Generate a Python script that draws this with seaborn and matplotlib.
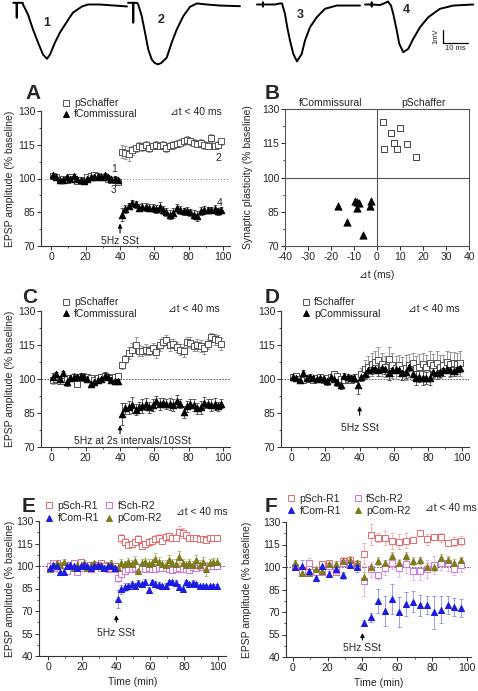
import numpy as np
import matplotlib
matplotlib.use("Agg")
import matplotlib.pyplot as plt
from matplotlib.lines import Line2D
import seaborn as sns

nan = np.nan

# ---------------- data ----------------
TIME_2MIN = [1, 3, 5, 7, 9, 11, 13, 15, 17, 19, 21, 23, 25, 27, 29, 31, 33, 35, 37, 39,
             41, 43, 45, 47, 49, 51, 53, 55, 57, 59, 61, 63, 65, 67, 69, 71, 73, 75, 77, 79,
             81, 83, 85, 87, 89, 91, 93, 95, 97, 99]
TIME_4MIN = [1, 5, 9, 13, 17, 21, 25, 29, 33, 37, 41, 45, 49, 53, 57, 61, 65, 69, 73, 77,
             81, 85, 89, 93, 97]

# EPSP traces (ms, mV) relative to each stimulus
TRACE1_T = [-1.4, 0, 0, 0, 2.4, 2.5, 4.5, 6.5, 8.5, 10.5, 12.1, 13.3, 15.3, 17.3, 20.1, 22.5, 26.1, 28.5, 33.3, 44.1]
TRACE1_V = [0.13, 0.13, -1.0, 0.13, 0.13, 0, -0.77, -1.92, -2.92, -3.85, -4.18, -3.85, -2.92, -2.15, -1.31, -0.62, -0.15, 0, 0, -0.15]
TRACE2_T = [-2.1, 0, 0, 0, 1.5, 2.0, 3.4, 4.7, 6.0, 7.4, 8.6, 9.9, 11.2, 13.4, 15.4, 17.4, 20.0, 22.7, 25.4, 29.4, 34.7, 42.7]
TRACE2_V = [0.13, 0.13, -1.38, 0.13, 0.13, 0, -0.9, -2.15, -3.46, -4.23, -4.5, -4.6, -4.5, -4.08, -2.92, -1.92, -0.9, -0.18, 0.08, 0, -0.08, -0.13]
TRACE3_T = [0, 2.4, 2.4, 2.4, 2.4, 7.2, 9.2, 10.0, 11.2, 12.1, 13.2, 14.5, 16.0, 17.9, 19.2, 21.2, 23.9, 27.2, 31.9, 41.2]
TRACE3_V = [0, 0, 0.15, -0.15, 0, 0, 0.08, 0.08, -0.72, -1.75, -2.77, -3.79, -4.38, -3.79, -2.77, -1.75, -0.98, -0.33, -0.08, -0.08]
TRACE4_T = [0, 2.7, 2.7, 2.7, 2.7, 6.0, 7.6, 9.2, 10.4, 11.3, 12.7, 13.7, 15.3, 17.3, 19.3, 22.0, 25.3, 30.0, 35.3, 43.3]
TRACE4_V = [0, 0, 0.15, -0.15, 0, -0.04, 0.08, 0.23, -0.08, -0.72, -2.0, -3.02, -3.67, -3.41, -2.64, -1.75, -0.98, -0.33, -0.08, 0]
TRACE_LABELS = ["1", "2", "3", "4"]
SCALE_MS = 10
SCALE_MV = 1

# axis ticks
TIME_TICKS = [0, 20, 40, 60, 80, 100]
TIME_MINOR = [10, 30, 50, 70, 90]
Y_TICKS_70 = [70, 85, 100, 115, 130]
Y_MINOR_70 = [77.5, 92.5, 107.5, 122.5]
Y_TICKS_40 = [40, 55, 70, 85, 100, 115, 130]
Y_MINOR_40 = [47.5, 62.5, 77.5, 92.5, 107.5, 122.5]
DT_TICKS = [-40, -30, -20, -10, 0, 10, 20, 30, 40]

# panel A
A_PSCH = [101, 100.5, 99.5, 100, 99.5, 100.5, 100, 99, 99.5, 99, 100.5, 101, 101.5, 101, 100.5, 100.5, 100, 99.5, 99.5, 98.5,
          112, 111.5, 111, 112.5, 113.5, 114.5, 114, 115, 113.5, 114.5, 115, 114.5, 115, 113.5, 114.5, 115, 115.5, 116, 116.5, 117,
          116.5, 116, 115.5, 116, 115, 114.5, 118, 114.5, 115, 116.5]
A_PSCH_ERR = [1.2, 1.0, 1.5, 1.0, 1.2, 0.8, 1.0, 1.2, 0.9, 1.0, 1.1, 1.3, 1.0, 0.9, 1.2, 1.0, 0.8, 1.0, 1.1, 1.0,
              3.0, 2.8, 3.0, 2.0, 1.5, 1.8, 1.6, 1.5, 1.8, 1.4, 1.6, 1.5, 1.8, 1.5, 1.6, 1.8, 1.5, 1.4, 1.6, 1.8,
              1.5, 1.6, 1.4, 1.5, 1.8, 1.6, 1.8, 1.5, 1.6, 1.5]
A_FCOM = [101.5, 100.5, 99.5, 99.5, 100.5, 100, 101, 100, 99.5, 99, 100, 100.5, 100.5, 101, 100.5, 101.5, 100.5, 100, 100, 99.5,
          84, 86.5, 88, 89, 88.5, 87, 87.5, 87.5, 87, 87, 86.5, 87.5, 86, 85, 84, 84.5, 87, 86, 85.5, 85.5,
          85, 84, 83.5, 85.5, 86, 86, 86, 86.5, 85.5, 86]
A_FCOM_ERR = [0.8, 1.0, 0.9, 1.0, 0.8, 1.0, 0.9, 0.8, 1.0, 0.9, 0.8, 1.0, 0.9, 1.0, 0.8, 1.0, 0.9, 0.8, 1.0, 0.9,
              3.0, 1.8, 1.2, 1.4, 1.5, 1.6, 1.4, 1.8, 1.5, 1.6, 1.8, 2.0, 1.6, 1.8, 2.0, 2.2, 1.8, 1.6, 1.5, 1.8,
              1.6, 2.0, 2.2, 1.8, 1.6, 1.5, 1.4, 1.6, 1.5, 1.4]
A_MARKS = ["1", "2", "3", "4"]
A_MARK_T = [36.5, 97, 36, 98]
A_MARK_Y = [104.4, 109.3, 95.1, 88.9]

# panel B
B_SCH_DT = [2.7, 6.0, 10.0, 7.4, 3.0, 8.6, 12.9, 17.0]
B_SCH_PL = [124.2, 119.4, 121.6, 115.3, 112.4, 112.7, 114.6, 108.9]
B_COM_DT = [-16.8, -13.2, -9.6, -8.6, -7.7, -8.6, -2.6, -3.0, -6.1]
B_COM_PL = [87.3, 80.4, 89.6, 89.2, 88.7, 86.7, 89.6, 87.4, 74.6]

# panel C
C_PSCH = [99.5, 100, 99, 99, 100, 100.5, 101, 98, 101, 100.5, 101, 100.5, 99.5, 100.5, 101, 101.5, 101, 100.5, 101, 101.5,
          106, 109, 111.5, 113, 115, 112.5, 112.5, 113, 112.5, 113.5, 112, 115, 116.5, 117, 115, 115.5, 114, 113, 112.5, 116.5,
          116, 114.5, 115, 114.5, 113.5, 115.5, 118.5, 117.5, 117, 115.5]
C_PSCH_ERR = [1.5, 1.2, 1.0, 1.4, 1.2, 1.0, 1.5, 1.2, 1.1, 1.5, 1.2, 1.0, 1.4, 1.2, 1.0, 1.5, 1.2, 1.0, 1.4, 1.2,
              1.5, 1.8, 2.5, 3.0, 3.5, 2.5, 2.2, 2.5, 2.0, 2.5, 2.8, 2.5, 2.0, 2.2, 2.5, 2.0, 2.2, 2.5, 2.8, 2.2,
              2.5, 2.2, 2.5, 2.8, 2.5, 2.2, 2.0, 2.5, 2.2, 2.5]
C_FCOM = [101, 102, 100, 102.5, 98.5, 100.5, 101, 101, 101.5, 101, 100, 98, 98.5, 99.5, 100, 101.5, 101, 99.5, 99, 99,
          84.5, 87, 87.5, 88.5, 86.5, 87.5, 88, 89, 87.5, 88.5, 90.5, 89, 89.5, 89, 89, 88.5, 90.5, 89, 85.5, 88,
          89, 88.5, 87, 87.5, 89.5, 89, 88.5, 89, 88, 89]
C_FCOM_ERR = [1.5, 1.2, 1.0, 1.2, 1.5, 1.0, 1.2, 1.0, 1.2, 1.5, 1.0, 1.2, 1.0, 1.2, 1.0, 1.5, 1.2, 1.0, 1.2, 1.0,
              5.0, 2.5, 3.0, 3.5, 2.5, 2.5, 3.0, 2.5, 2.5, 2.5, 2.0, 2.5, 2.0, 2.2, 2.5, 2.5, 2.5, 2.0, 2.5, 2.5,
              2.0, 2.5, 2.5, 3.0, 2.5, 2.0, 2.5, 2.5, 2.0, 2.0]

# panel D
D_FSCH = [101, 101.5, 100, 99.5, 100.5, 100, 99.5, 100.5, 101, 99.5, 100.5, 101, 102, 101.5, 100, 99.5, 100, 99.5, 100, 101,
          102, 104.5, 105.5, 106.5, 107.5, 108.5, 106.5, 105.5, 109, 106, 105, 106, 104.5, 105, 106, 107, 105, 105.5, 106.5, 105.5,
          107, 106, 107, 105.5, 106, 107.5, 106.5, 107, 106.5, 107]
D_FSCH_ERR = [1.0, 1.2, 1.0, 0.8, 1.2, 1.0, 0.8, 1.0, 1.2, 1.0, 0.8, 1.2, 1.5, 1.0, 1.2, 1.0, 0.8, 1.0, 1.2, 1.0,
              3.0, 4.0, 4.5, 5.0, 5.0, 5.5, 5.0, 4.5, 5.0, 5.5, 5.0, 4.5, 5.0, 5.5, 5.0, 4.5, 5.0, 5.5, 5.0, 5.0,
              5.5, 5.0, 5.5, 5.0, 4.5, 5.0, 5.5, 5.0, 5.0, 5.5]
D_PCOM = [101, 100.5, 99.5, 102.5, 100.5, 101, 100.5, 100, 100.5, 100, 99, 101, 100, 98.5, 97.5, 101.5, 101, 100.5, 100.5, 97.5,
          101, 102, 104, 104.5, 104.5, 104, 105, 104.5, 102.5, 104, 104.5, 104, 102.5, 103, 105.5, 102, 100.5, 101, 100.5, 100.5,
          100.5, 103, 102.5, 103, 104, 104.5, 104, 103.5, 104.5, 105]
D_PCOM_ERR = [1.0, 1.0, 1.2, 1.5, 1.0, 1.2, 1.0, 1.0, 1.2, 1.0, 1.5, 1.2, 1.0, 1.5, 2.0, 1.2, 1.0, 1.2, 1.5, 4.0,
              2.0, 2.0, 2.5, 2.5, 2.0, 2.5, 2.0, 2.5, 3.0, 2.5, 2.0, 2.5, 3.0, 2.5, 2.0, 2.5, 3.0, 2.5, 3.0, 2.5,
              3.0, 2.5, 2.5, 2.0, 2.5, 2.0, 2.5, 2.0, 2.5, 2.0]

# panel E
E_PSCH_R1 = [99, 101, 102, 100, 99, 101, 100, 102, 99, 103, 101, 100, 99, 101, 100, 102, 100, 101, 99, 100,
             nan, 118.5, 116, 114, 115, 116, 118, 113.5, 115, 116, 116.5, 118, 119, 117, 119.5, 120, 118.5, 119, 123, 122,
             120.5, 119, 118.5, 118.5, 118, 118, 117.5, 118.5, 119, 118.5]
E_PSCH_R1_ERR = [1.5, 1.2, 1.5, 1.2, 1.5, 1.2, 1.5, 1.5, 1.2, 1.5, 1.2, 1.5, 1.2, 1.5, 1.2, 1.5, 1.2, 1.5, 1.2, 1.5,
                 nan, 3.0, 2.5, 2.0, 2.0, 2.0, 2.5, 2.0, 2.0, 2.5, 2.0, 2.5, 2.5, 2.0, 2.5, 2.0, 2.0, 2.5, 4.0, 3.5,
                 2.5, 2.0, 2.0, 1.5, 1.5, 1.5, 1.5, 1.5, 1.5, 1.5]
E_FSCH_R2 = [100, 102, 99, 98, 101, 97, 101, 102, 96, 99, 100, 101, 98, 100, 101, 99, 100, 98, 99, 98,
             92, 95, 97, 98, 98, 98.5, 99.5, 98.5, 98, 99, 98, 98, 99, 98.5, 99, 98, 97.5, 98, 99, 98,
             98, 97.5, 99.5, 99, 100, 99.5, 100, 100, 100, 100]
E_FSCH_R2_ERR = [1.5, 2.0, 1.5, 2.0, 1.5, 2.0, 1.5, 1.5, 2.0, 1.5, 2.0, 1.5, 1.5, 2.0, 1.5, 1.5, 2.0, 1.5, 1.5, 2.0,
                 2.5, 2.0, 2.0, 2.0, 1.5, 2.0, 1.5, 2.0, 2.0, 1.5, 2.0, 2.0, 1.5, 2.0, 2.0, 1.5, 2.0, 2.0, 1.5, 2.0,
                 2.0, 1.5, 2.0, 2.0, 1.5, 2.0, 2.0, 1.5, 2.0, 1.5]
E_FCOM_R1 = [99, 101, 100, 96, 96, 100, 101, 100, 99, 100, 101, 100, 99, 100, 101, 100, 99, 100, 100, 99,
             78, 84.5, 86, 86.5, 88, 87, 89, 88, 89.5, 84, 89.5, 88, 87.5, 86.5, 87, 89.5, 89.5, 89, 86, 85,
             89.5, 88, 89, 88, 86.5, 86.5, 86.5, 86.5, 87, 87]
E_FCOM_R1_ERR = [1.0, 1.2, 1.0, 1.5, 1.2, 1.0, 1.2, 1.0, 1.0, 1.2, 1.0, 1.2, 1.0, 1.0, 1.2, 1.0, 1.2, 1.0, 1.0, 1.2,
                 6.0, 3.0, 2.5, 2.0, 2.0, 2.0, 2.0, 1.5, 2.0, 2.0, 1.5, 2.0, 2.0, 1.5, 2.0, 1.5, 1.5, 2.0, 2.0, 2.0,
                 1.5, 1.5, 1.5, 1.5, 1.0, 1.0, 1.0, 1.0, 1.0, 1.0]
E_PCOM_R2 = [98, 101, 102, 101, 103, 100, 101, 99, 101, 100, 102, 99, 101, 102, 100, 101, 99, 101, 102, 99,
             98.5, 102, 101.5, 103, 101.5, 103.5, 97, 102, 103, 101.5, 102, 105, 103, 101.5, 101, 104, 102, 101.5, 106, 102,
             101, 102, 101, 104, 101, 103, 98, 102, 103, 103]
E_PCOM_R2_ERR = [1.5, 1.5, 2.0, 1.5, 2.0, 1.5, 1.5, 2.0, 1.5, 1.5, 2.0, 1.5, 2.0, 1.5, 1.5, 2.0, 1.5, 1.5, 2.0, 1.5,
                 2.0, 2.5, 2.0, 2.5, 2.5, 3.0, 2.5, 3.0, 2.5, 3.0, 2.5, 3.5, 3.0, 2.5, 3.0, 3.5, 2.5, 3.0, 4.0, 3.0,
                 2.5, 3.0, 2.5, 3.5, 3.0, 3.0, 4.5, 3.0, 2.5, 2.5]

# panel F
F_PSCH_R1 = [100, 98, 101, 97, 102, 103, 97, 104, 105, 102,
             109, 121.5, 119.5, 119.5, 117.5, 117, 117.5, 118, 122.5, 118.5, 120, 120, 116, 117, 117.5]
F_PSCH_R1_ERR = [1.5, 2.0, 1.5, 2.0, 2.0, 2.0, 2.0, 2.5, 2.5, 2.0,
                 7.0, 7.0, 3.0, 4.5, 5.5, 5.0, 5.0, 1.5, 1.5, 3.5, 2.0, 3.0, 1.5, 3.0, 3.0]
F_FSCH_R2 = [100, 97, 103, 97, 96.5, 101, 98, 103, 103, 101,
             90.5, 98.5, 94.5, 99.5, 103, 99.5, 102, 97.5, 97.5, 99, 101.5, 102.5, 102.5, 98.5, 101.5]
F_FSCH_R2_ERR = [1.5, 2.0, 3.0, 2.0, 2.0, 2.5, 2.0, 2.5, 2.0, 2.0,
                 10.0, 5.0, 2.5, 5.0, 4.0, 6.0, 6.0, 6.0, 6.0, 6.0, 6.0, 4.5, 5.0, 4.0, 4.5]
F_FCOM_R1 = [100, 100.5, 97.5, 93, 101, 95.5, 98.5, 94.5, 101.5, 100,
             62.5, 66.5, 77.5, 70.5, 79, 70, 75.5, 77, 74.5, 74.5, 70, 71.5, 74.5, 73.5, 72.5]
F_FCOM_R1_ERR = [2.0, 4.0, 3.0, 2.0, 2.5, 2.0, 3.0, 2.5, 2.0, 3.0,
                 2.0, 3.0, 8.0, 10.0, 10.0, 10.0, 8.0, 7.0, 7.0, 6.0, 11.0, 9.0, 6.0, 6.0, 6.0]
F_PCOM_R2 = [103, 96, 96, 98.5, 97.5, 102, 102, 104, 104.5, 102.5,
             93.5, 100, 104, 102.5, 107.5, 102.5, 107.5, 104, 104.5, 100, 100, 106, 104.5, 103, 104.5]
F_PCOM_R2_ERR = [1.5, 1.5, 1.5, 1.5, 1.5, 2.0, 2.0, 2.0, 2.0, 2.0,
                 3.0, 2.0, 2.5, 2.5, 2.5, 2.5, 2.5, 2.5, 2.5, 2.5, 2.5, 3.0, 2.5, 2.5, 2.5]

STIM_T = 40

# ---------------- style ----------------
sns.set_theme(style="ticks")
plt.rcParams["font.family"] = ["Liberation Sans", "DejaVu Sans"]
plt.rcParams["font.size"] = 7.5
plt.rcParams["axes.linewidth"] = 0.8
plt.rcParams["axes.edgecolor"] = "#333333"
plt.rcParams["axes.unicode_minus"] = False

FS = 7.5
W, H = 478, 691
fig = plt.figure(figsize=(W / 100, H / 100), dpi=100)
fig.patch.set_facecolor("white")


def px_axes(left, top, right, bottom):
    return fig.add_axes([left / W, 1 - bottom / H, (right - left) / W, (bottom - top) / H])


SQ_GRAY = dict(marker="s", face="white", edge="#555555", ecolor="#8a8a8a", size=18)
TRI_BLACK = dict(marker="^", face="black", edge="black", ecolor="#444444", size=22)
R1_SQ = dict(marker="s", face="white", edge="#e66a6a", ecolor="#f0a8a8", size=15)
R2_SQ = dict(marker="s", face="white", edge="#d670d6", ecolor="#e8a8e8", size=15)
R1_TRI = dict(marker="^", face="#1c1ce0", edge="#1c1ce0", ecolor="#8c8ce6", size=19)
R2_TRI = dict(marker="^", face="#7c7c1c", edge="#7c7c1c", ecolor="#b8b878", size=19)


def draw_series(ax, t, y, err, st):
    ax.errorbar(t, y, yerr=err, fmt="none", ecolor=st["ecolor"], elinewidth=0.6,
                capsize=1.4, capthick=0.6, zorder=2)
    sns.scatterplot(x=t, y=y, marker=st["marker"], s=st["size"], color=st["edge"],
                    facecolor=st["face"], edgecolor=st["edge"], linewidth=0.7,
                    ax=ax, zorder=3, legend=False)


def handle(st, label):
    return Line2D([], [], linestyle="none", marker=st["marker"],
                  markersize=3.8 if st["marker"] == "s" else 4.3,
                  markerfacecolor=st["face"], markeredgecolor=st["edge"],
                  markeredgewidth=0.7, label=label)


def style_time_axes(ax, xlim, ylim, yticks, yminor):
    ax.set_xlim(*xlim)
    ax.set_ylim(*ylim)
    ax.set_xticks(TIME_TICKS)
    ax.set_xticks(TIME_MINOR, minor=True)
    ax.set_yticks(yticks)
    ax.set_yticks(yminor, minor=True)
    sns.despine(ax=ax)
    ax.tick_params(which="major", direction="out", length=2.6, width=0.7,
                   labelsize=FS, pad=1.5, color="#333333")
    ax.tick_params(which="minor", direction="out", length=1.5, width=0.6, color="#333333")
    ax.set_xlabel("")
    ax.set_ylabel("")


def stim_arrow(ax, tip, tail, text_y, text, text_x=STIM_T):
    ax.annotate("", xy=(STIM_T, tip), xytext=(STIM_T, tail),
                arrowprops=dict(arrowstyle="-|>", color="black", lw=0.8,
                                mutation_scale=6, shrinkA=0, shrinkB=0))
    ax.text(text_x, text_y, text, ha="center", va="center", fontsize=FS)


def dt_text(ax, x, y):
    ax.text(x, y, "\u22bft < 40 ms", transform=ax.transAxes, ha="right", va="center",
            fontsize=FS)


def panel_letter(x, y_base, letter):
    fig.text(x / W, 1 - y_base / H, letter, fontsize=15, fontweight="bold",
             ha="left", va="baseline")


# ---------------- traces ----------------
ax_tr = px_axes(0, 0, W, 64)
ax_tr.set_xlim(0, W / 2.5)
ax_tr.set_ylim(-(64 - 4.5) / 13, 4.5 / 13)
ax_tr.axis("off")
onsets = [6.7, 53.3, 102.8, 146.0]
label_pos = [(12, -1.45), (11.1, -1.19), (17.2, -0.81), (16.7, -0.42)]
traces = [(TRACE1_T, TRACE1_V), (TRACE2_T, TRACE2_V), (TRACE3_T, TRACE3_V), (TRACE4_T, TRACE4_V)]
for (tt, vv), on, lab, (lx, ly) in zip(traces, onsets, TRACE_LABELS, label_pos):
    sns.lineplot(x=np.array(tt) + on, y=vv, sort=False, estimator=None, color="black",
                 lw=1.4, ax=ax_tr, clip_on=False)
    ax_tr.text(on + lx, ly, lab, fontsize=9, fontweight="bold", ha="center", va="center")
sb_x, sb_y = 177.2, -2.96
ax_tr.plot([sb_x, sb_x, sb_x + SCALE_MS], [sb_y + SCALE_MV, sb_y, sb_y], color="black", lw=0.9)
ax_tr.text(sb_x - 1.6, sb_y + SCALE_MV / 2, f"{SCALE_MV}mV", rotation=90, fontsize=5.5,
           ha="right", va="center")
ax_tr.text(sb_x + SCALE_MS / 2, sb_y - 0.15, f"{SCALE_MS} ms", fontsize=5.5, ha="center", va="top")

XL = (-6, 104)

# ---------------- A ----------------
axA = px_axes(41, 111, 230, 246)
axA.axhline(100, color="#888888", ls=":", lw=0.8, zorder=1)
draw_series(axA, TIME_2MIN, A_PSCH, A_PSCH_ERR, SQ_GRAY)
draw_series(axA, TIME_2MIN, A_FCOM, A_FCOM_ERR, TRI_BLACK)
style_time_axes(axA, XL, (70, 130), Y_TICKS_70, Y_MINOR_70)
for m, t, y in zip(A_MARKS, A_MARK_T, A_MARK_Y):
    axA.text(t, y, m, fontsize=FS, ha="center", va="center")
stim_arrow(axA, 80, 75.8, 72.4, "5Hz SSt")
axA.legend(handles=[handle(SQ_GRAY, "pSchaffer"), handle(TRI_BLACK, "fCommissural")],
           loc="upper left", bbox_to_anchor=(0.11, 1.095), frameon=False, fontsize=FS,
           borderpad=0, borderaxespad=0, handlelength=0.8, handletextpad=0.4, labelspacing=0.12)
dt_text(axA, 0.958, 0.99)
axA.set_ylabel("EPSP amplitude (% baseline)", fontsize=FS)
axA.yaxis.set_label_coords(-0.135, 0.5)
panel_letter(25, 99, "A")

# ---------------- B ----------------
axB = px_axes(285, 109, 469, 246)
axB.axvline(0, color="#555555", lw=0.8, zorder=1)
axB.axhline(100, color="#555555", lw=0.8, zorder=1)
sns.scatterplot(x=B_SCH_DT, y=B_SCH_PL, marker="s", s=22, color="#444444", facecolor="white",
                edgecolor="#444444", linewidth=0.7, ax=axB, zorder=3, legend=False)
sns.scatterplot(x=B_COM_DT, y=B_COM_PL, marker="^", s=28, color="black", facecolor="black",
                edgecolor="black", linewidth=0.5, ax=axB, zorder=3, legend=False)
axB.set_xlim(-40, 40)
axB.set_ylim(70, 130)
axB.set_xticks(DT_TICKS)
axB.set_yticks(Y_TICKS_70)
axB.set_yticks(Y_MINOR_70, minor=True)
for s in axB.spines.values():
    s.set_color("#555555")
    s.set_linewidth(0.8)
axB.tick_params(which="major", direction="out", length=2.6, width=0.7, labelsize=FS, pad=1.5)
axB.tick_params(which="minor", direction="out", length=1.5, width=0.6)
axB.set_xlabel("\u22bft (ms)", fontsize=FS, labelpad=6)
axB.set_ylabel("Synaptic plasticity (% baseline)", fontsize=FS)
axB.yaxis.set_label_coords(-0.175, 0.5)
axB.text(-20, 130.6, "fCommissural", ha="center", va="bottom", fontsize=FS)
axB.text(20, 130.6, "pSchaffer", ha="center", va="bottom", fontsize=FS)
panel_letter(265, 99, "B")

# ---------------- C ----------------
axC = px_axes(41, 311, 230, 447)
axC.axhline(100, color="#444444", ls=(0, (2, 1.5)), lw=0.6, zorder=1)
draw_series(axC, TIME_2MIN, C_PSCH, C_PSCH_ERR, SQ_GRAY)
draw_series(axC, TIME_2MIN, C_FCOM, C_FCOM_ERR, TRI_BLACK)
style_time_axes(axC, XL, (70, 130), Y_TICKS_70, Y_MINOR_70)
stim_arrow(axC, 79.6, 75.8, 72.8, "5Hz at 2s intervals/10SSt", text_x=47)
axC.legend(handles=[handle(SQ_GRAY, "pSchaffer"), handle(TRI_BLACK, "fCommissural")],
           loc="upper left", bbox_to_anchor=(0.11, 1.10), frameon=False, fontsize=FS,
           borderpad=0, borderaxespad=0, handlelength=0.8, handletextpad=0.4, labelspacing=0.12)
dt_text(axC, 0.947, 1.015)
axC.set_ylabel("EPSP amplitude (% baseline)", fontsize=FS)
axC.yaxis.set_label_coords(-0.135, 0.5)
panel_letter(22, 303, "C")

# ---------------- D ----------------
axD = px_axes(281, 311, 469, 447)
axD.axhline(100, color="#444444", ls=(0, (2, 1.5)), lw=0.6, zorder=1)
draw_series(axD, TIME_2MIN, D_FSCH, D_FSCH_ERR, SQ_GRAY)
draw_series(axD, TIME_2MIN, D_PCOM, D_PCOM_ERR, TRI_BLACK)
style_time_axes(axD, XL, (70, 130), Y_TICKS_70, Y_MINOR_70)
stim_arrow(axD, 88, 84, 78.4, "5Hz SSt")
axD.legend(handles=[handle(SQ_GRAY, "fSchaffer"), handle(TRI_BLACK, "pCommissural")],
           loc="upper left", bbox_to_anchor=(0.11, 1.10), frameon=False, fontsize=FS,
           borderpad=0, borderaxespad=0, handlelength=0.8, handletextpad=0.4, labelspacing=0.12)
dt_text(axD, 0.952, 1.015)
panel_letter(265, 303, "D")

# ---------------- E ----------------
axE = px_axes(39, 521, 226, 656)
axE.axhline(100, color="#444444", ls=(0, (2, 1.5)), lw=0.6, zorder=1)
draw_series(axE, TIME_2MIN, E_PSCH_R1, E_PSCH_R1_ERR, R1_SQ)
draw_series(axE, TIME_2MIN, E_FSCH_R2, E_FSCH_R2_ERR, R2_SQ)
draw_series(axE, TIME_2MIN, E_PCOM_R2, E_PCOM_R2_ERR, R2_TRI)
draw_series(axE, TIME_2MIN, E_FCOM_R1, E_FCOM_R1_ERR, R1_TRI)
style_time_axes(axE, (-5.5, 104.5), (40, 130), Y_TICKS_40, Y_MINOR_40)
stim_arrow(axE, 67.3, 62.5, 55.3, "5Hz SSt")
axE.legend(handles=[handle(R1_SQ, "pSch-R1"), handle(R1_TRI, "fCom-R1"),
                    handle(R2_SQ, "fSch-R2"), handle(R2_TRI, "pCom-R2")],
           ncol=2, loc="upper left", bbox_to_anchor=(0.032, 1.15), frameon=False, fontsize=FS,
           borderpad=0, borderaxespad=0, handlelength=0.8, handletextpad=0.4,
           labelspacing=0.25, columnspacing=0.6)
dt_text(axE, 1.01, 1.067)
axE.set_ylabel("EPSP amplitude (% baseline)", fontsize=FS)
axE.yaxis.set_label_coords(-0.128, 0.5)
axE.set_xlabel("Time (min)", fontsize=FS, labelpad=4)
panel_letter(22, 512, "E")

# ---------------- F ----------------
axF = px_axes(286, 522, 471, 657)
axF.axhline(100, color="#444444", ls=(0, (2, 1.5)), lw=0.6, zorder=1)
draw_series(axF, TIME_4MIN, F_PSCH_R1, F_PSCH_R1_ERR, R1_SQ)
draw_series(axF, TIME_4MIN, F_FSCH_R2, F_FSCH_R2_ERR, R2_SQ)
draw_series(axF, TIME_4MIN, F_PCOM_R2, F_PCOM_R2_ERR, R2_TRI)
draw_series(axF, TIME_4MIN, F_FCOM_R1, F_FCOM_R1_ERR, R1_TRI)
style_time_axes(axF, (-4, 102.5), (40, 130), Y_TICKS_40, Y_MINOR_40)
stim_arrow(axF, 56, 51.3, 46, "5Hz SSt")
axF.legend(handles=[handle(R1_SQ, "pSch-R1"), handle(R1_TRI, "fCom-R1"),
                    handle(R2_SQ, "fSch-R2"), handle(R2_TRI, "pCom-R2")],
           ncol=2, loc="upper left", bbox_to_anchor=(0.005, 1.207), frameon=False, fontsize=FS,
           borderpad=0, borderaxespad=0, handlelength=0.8, handletextpad=0.4,
           labelspacing=0.15, columnspacing=1.2)
dt_text(axF, 1.03, 1.104)
axF.set_ylabel("EPSP amplitude (% baseline)", fontsize=FS)
axF.yaxis.set_label_coords(-0.184, 0.5)
axF.set_xlabel("Time (min)", fontsize=FS, labelpad=4)
panel_letter(265, 512, "F")

fig.savefig("out.png", dpi=100, facecolor="white")
